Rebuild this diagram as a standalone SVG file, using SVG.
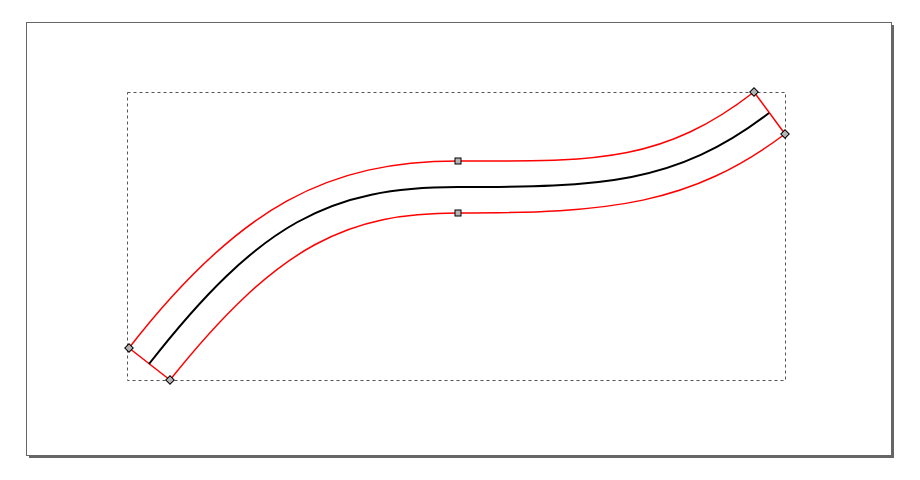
<svg xmlns="http://www.w3.org/2000/svg" width="920" height="480" viewBox="0 0 920 480">
<style>
.red{fill:none;stroke:#ff0000;stroke-width:1.5}
.h{fill:#b4b4b4;stroke:#000;stroke-width:1}
</style>
<rect width="920" height="480" fill="#fff"/>
<g id="page">
<rect x="29" y="25" width="865" height="433" fill="#666"/>
<rect x="26.5" y="22.5" width="865" height="433" fill="#fff" stroke="#666" stroke-width="1"/>
</g>
<g id="bbox">
<rect x="127.5" y="92.5" width="658" height="288" fill="none" stroke="#555" stroke-width="1" stroke-dasharray="3,3"/>
</g>
<g id="connectors">
<path class="red" d="M129,348 C240,205 330,161 458,161 C590,161 660,165 754,92"/>
<path class="red" d="M170,380 C280,242 350,213 458,213 C610,213 690,205 785,134"/>
<path class="red" d="M129,348 L170,380 M754,92 L785,134"/>
<path d="M149,364 C260,222 330,187 458,187 C600,187 675,185 769,113" fill="none" stroke="#000" stroke-width="2"/>
</g>
<g id="handles">
<rect class="h" x="455" y="158" width="6" height="6"/>
<rect class="h" x="455" y="210" width="6" height="6"/>
<rect class="h" x="-3" y="-3" width="6" height="6" transform="translate(129,348) rotate(45)"/>
<rect class="h" x="-3" y="-3" width="6" height="6" transform="translate(170,380) rotate(45)"/>
<rect class="h" x="-3" y="-3" width="6" height="6" transform="translate(754,92) rotate(45)"/>
<rect class="h" x="-3" y="-3" width="6" height="6" transform="translate(785,134) rotate(45)"/>
</g>
</svg>
